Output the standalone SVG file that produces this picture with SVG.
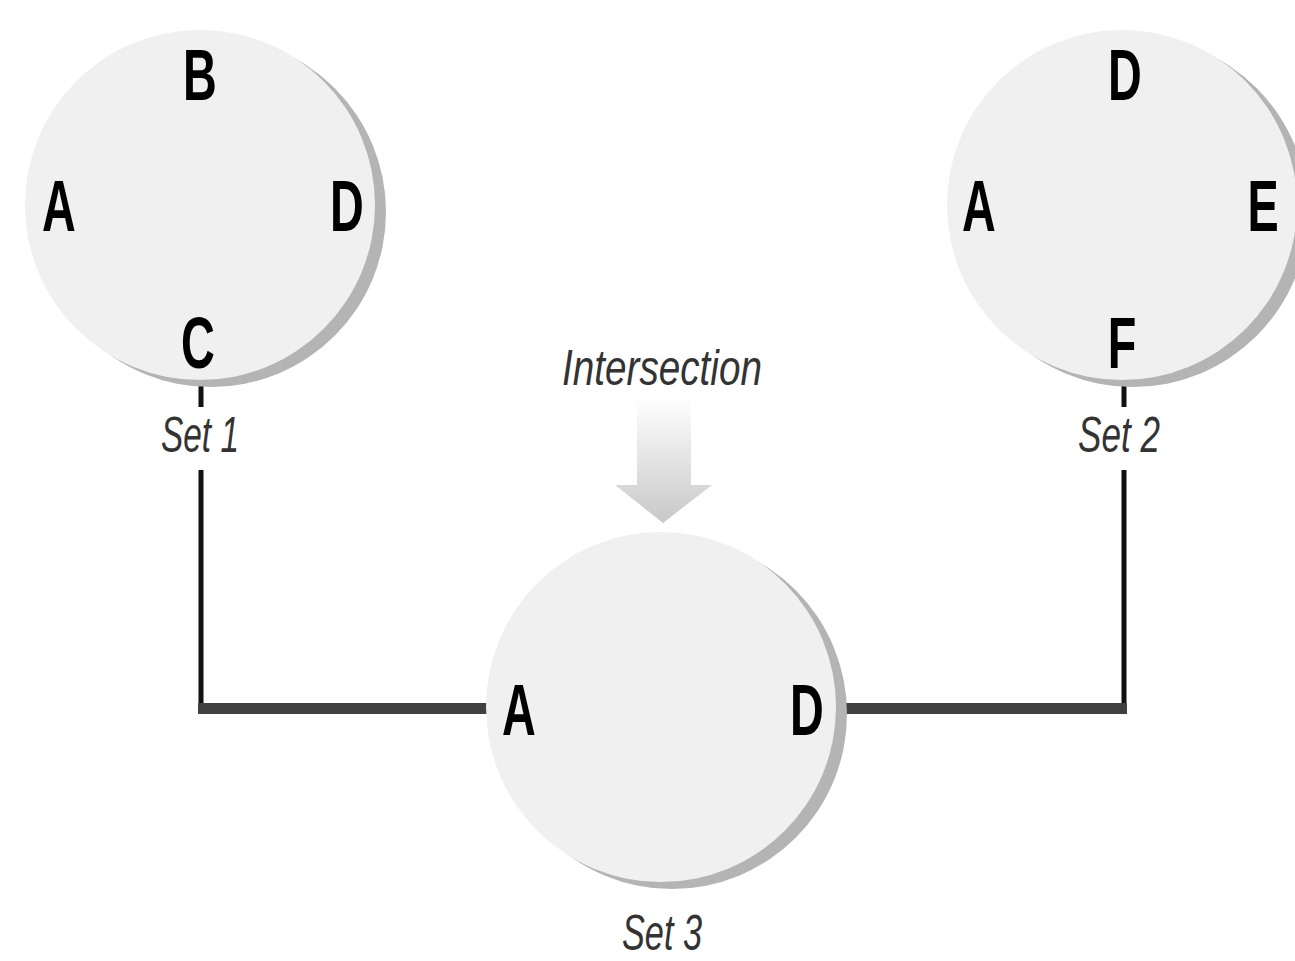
<svg xmlns="http://www.w3.org/2000/svg" width="1295" height="961" viewBox="0 0 1295 961">
<defs>
<linearGradient id="arrowGrad" x1="0" y1="0" x2="0" y2="1">
<stop offset="0" stop-color="#ffffff"/>
<stop offset="1" stop-color="#c8c8c8"/>
</linearGradient>
</defs>
<style>
.shadow{fill:#b4b4b4}
.disc{fill:#f0f0f0}
.el{font-family:"Liberation Sans",Arial,sans-serif;font-weight:bold;font-size:72px;fill:#000;text-anchor:middle}
.lbl{font-family:"Liberation Sans",Arial,sans-serif;font-style:italic;font-size:50px;fill:#333;text-anchor:middle}
.thin{stroke:#111;stroke-width:5;fill:none}
.thick{stroke:#404040;stroke-width:11;fill:none}
</style>
<rect width="1295" height="961" fill="#fff"/>
<g id="connectors">
<line class="thin" x1="201" y1="383" x2="201" y2="407"/>
<line class="thin" x1="201" y1="470" x2="201" y2="714"/>
<line class="thick" x1="198" y1="708.5" x2="488" y2="708.5"/>
<line class="thin" x1="1124" y1="383" x2="1124" y2="407"/>
<line class="thin" x1="1124" y1="470" x2="1124" y2="714"/>
<line class="thick" x1="840" y1="708.5" x2="1127" y2="708.5"/>
</g>
<g id="set1">
<circle class="shadow" cx="211" cy="212" r="175"/>
<circle class="disc" cx="200" cy="205" r="175"/>
<text class="el" transform="translate(200,100) scale(0.65,1)">B</text>
<text class="el" transform="translate(59,231) scale(0.65,1)">A</text>
<text class="el" transform="translate(347,231) scale(0.65,1)">D</text>
<text class="el" transform="translate(198,368) scale(0.65,1)">C</text>
<text class="lbl" x="200" y="452" textLength="78" lengthAdjust="spacingAndGlyphs">Set 1</text>
</g>
<g id="set2">
<circle class="shadow" cx="1133" cy="212" r="175"/>
<circle class="disc" cx="1122" cy="205" r="175"/>
<text class="el" transform="translate(1125,100) scale(0.65,1)">D</text>
<text class="el" transform="translate(979,231) scale(0.65,1)">A</text>
<text class="el" transform="translate(1263,231) scale(0.65,1)">E</text>
<text class="el" transform="translate(1122,368) scale(0.65,1)">F</text>
<text class="lbl" x="1119" y="452" textLength="82" lengthAdjust="spacingAndGlyphs">Set 2</text>
</g>
<g id="intersection">
<text class="lbl" x="662" y="385" textLength="200" lengthAdjust="spacingAndGlyphs">Intersection</text>
<path d="M637,397 H691 V485 H712 L663,523 L615,485 H637 Z" fill="url(#arrowGrad)"/>
</g>
<g id="set3">
<circle class="shadow" cx="672" cy="714" r="175"/>
<circle class="disc" cx="661" cy="707" r="175"/>
<text class="el" transform="translate(519,735) scale(0.65,1)">A</text>
<text class="el" transform="translate(807,735) scale(0.65,1)">D</text>
<text class="lbl" x="662" y="950" font-size="46" textLength="80" lengthAdjust="spacingAndGlyphs">Set 3</text>
</g>
</svg>
